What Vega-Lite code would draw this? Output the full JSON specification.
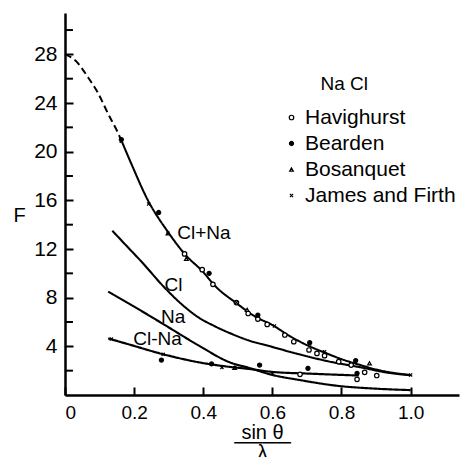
{
  "$schema": "https://vega.github.io/schema/vega-lite/v6.json",
  "width": 394,
  "height": 382,
  "autosize": {"type": "none"},
  "padding": {"left": 65, "top": 13, "right": 8, "bottom": 62},
  "background": "white",
  "config": {
    "view": {"stroke": null},
    "font": "Liberation Sans",
    "axis": {"grid": false, "domainColor": "black", "domainWidth": 2.5, "tickColor": "black", "tickWidth": 2, "labelColor": "black", "titleColor": "black", "labelFont": "Liberation Sans", "titleFont": "Liberation Sans", "titleFontWeight": "normal"}
  },
  "datasets": {
    "curves": [
      {"c": "ClNaDash", "x": 0.0, "F": 28.0},
      {"c": "ClNaDash", "x": 0.03, "F": 27.5},
      {"c": "ClNaDash", "x": 0.067, "F": 26.1},
      {"c": "ClNaDash", "x": 0.096, "F": 24.8},
      {"c": "ClNaDash", "x": 0.125, "F": 23.1},
      {"c": "ClNaDash", "x": 0.149, "F": 21.8},
      {"c": "ClNaDash", "x": 0.165, "F": 20.8},
      {"c": "ClNa", "x": 0.165, "F": 20.8},
      {"c": "ClNa", "x": 0.192, "F": 19.0},
      {"c": "ClNa", "x": 0.24, "F": 16.0},
      {"c": "ClNa", "x": 0.298, "F": 13.4},
      {"c": "ClNa", "x": 0.346, "F": 11.6},
      {"c": "ClNa", "x": 0.4, "F": 10.1},
      {"c": "ClNa", "x": 0.433, "F": 9.0},
      {"c": "ClNa", "x": 0.496, "F": 7.55},
      {"c": "ClNa", "x": 0.55, "F": 6.45},
      {"c": "ClNa", "x": 0.6, "F": 5.75},
      {"c": "ClNa", "x": 0.65, "F": 4.85},
      {"c": "ClNa", "x": 0.7, "F": 4.1},
      {"c": "ClNa", "x": 0.75, "F": 3.5},
      {"c": "ClNa", "x": 0.8, "F": 2.95},
      {"c": "ClNa", "x": 0.85, "F": 2.5},
      {"c": "ClNa", "x": 0.9, "F": 2.1},
      {"c": "ClNa", "x": 0.95, "F": 1.82},
      {"c": "ClNa", "x": 1.0, "F": 1.65},
      {"c": "Cl", "x": 0.137, "F": 13.5},
      {"c": "Cl", "x": 0.18, "F": 12.2},
      {"c": "Cl", "x": 0.22, "F": 11.0},
      {"c": "Cl", "x": 0.289, "F": 8.8},
      {"c": "Cl", "x": 0.34, "F": 7.4},
      {"c": "Cl", "x": 0.385, "F": 6.4},
      {"c": "Cl", "x": 0.43, "F": 5.7},
      {"c": "Cl", "x": 0.48, "F": 5.05},
      {"c": "Cl", "x": 0.53, "F": 4.5},
      {"c": "Cl", "x": 0.6, "F": 3.95},
      {"c": "Cl", "x": 0.67, "F": 3.4},
      {"c": "Cl", "x": 0.76, "F": 2.78},
      {"c": "Cl", "x": 0.86, "F": 2.25},
      {"c": "Cl", "x": 0.93, "F": 1.85},
      {"c": "Cl", "x": 1.0, "F": 1.62},
      {"c": "Na", "x": 0.125, "F": 8.5},
      {"c": "Na", "x": 0.192, "F": 7.4},
      {"c": "Na", "x": 0.289, "F": 5.75},
      {"c": "Na", "x": 0.385, "F": 4.1},
      {"c": "Na", "x": 0.48, "F": 2.65},
      {"c": "Na", "x": 0.53, "F": 2.25},
      {"c": "Na", "x": 0.6, "F": 1.65},
      {"c": "Na", "x": 0.675, "F": 1.25},
      {"c": "Na", "x": 0.79, "F": 0.75},
      {"c": "Na", "x": 0.9, "F": 0.52},
      {"c": "Na", "x": 1.0, "F": 0.4},
      {"c": "ClmNa", "x": 0.125, "F": 4.65},
      {"c": "ClmNa", "x": 0.192, "F": 4.1},
      {"c": "ClmNa", "x": 0.284, "F": 3.35},
      {"c": "ClmNa", "x": 0.385, "F": 2.7},
      {"c": "ClmNa", "x": 0.48, "F": 2.3},
      {"c": "ClmNa", "x": 0.53, "F": 2.15},
      {"c": "ClmNa", "x": 0.6, "F": 1.9},
      {"c": "ClmNa", "x": 0.713, "F": 1.75},
      {"c": "ClmNa", "x": 0.85, "F": 1.6}
    ],
    "obs": [
      {"src": "Havighurst", "x": 0.346, "F": 11.6},
      {"src": "Havighurst", "x": 0.397, "F": 10.3},
      {"src": "Havighurst", "x": 0.428, "F": 9.1},
      {"src": "Havighurst", "x": 0.496, "F": 7.6},
      {"src": "Havighurst", "x": 0.53, "F": 6.7},
      {"src": "Havighurst", "x": 0.558, "F": 6.24},
      {"src": "Havighurst", "x": 0.585, "F": 5.8},
      {"src": "Havighurst", "x": 0.636, "F": 4.93},
      {"src": "Havighurst", "x": 0.662, "F": 4.38},
      {"src": "Havighurst", "x": 0.706, "F": 3.7},
      {"src": "Havighurst", "x": 0.729, "F": 3.42},
      {"src": "Havighurst", "x": 0.751, "F": 3.23},
      {"src": "Havighurst", "x": 0.792, "F": 2.74},
      {"src": "Havighurst", "x": 0.828, "F": 2.46},
      {"src": "Havighurst", "x": 0.867, "F": 1.86},
      {"src": "Havighurst", "x": 0.902, "F": 1.6},
      {"src": "Havighurst", "x": 0.68, "F": 1.7},
      {"src": "Havighurst", "x": 0.845, "F": 1.29},
      {"src": "Bearden", "x": 0.163, "F": 21.0},
      {"src": "Bearden", "x": 0.271, "F": 15.0},
      {"src": "Bearden", "x": 0.417, "F": 10.0},
      {"src": "Bearden", "x": 0.558, "F": 6.57},
      {"src": "Bearden", "x": 0.708, "F": 4.3},
      {"src": "Bearden", "x": 0.841, "F": 2.82},
      {"src": "Bearden", "x": 0.279, "F": 2.87},
      {"src": "Bearden", "x": 0.424, "F": 2.55},
      {"src": "Bearden", "x": 0.563, "F": 2.46},
      {"src": "Bearden", "x": 0.703, "F": 2.19},
      {"src": "Bearden", "x": 0.845, "F": 1.78},
      {"src": "Bosanquet", "x": 0.298, "F": 13.3},
      {"src": "Bosanquet", "x": 0.351, "F": 11.2},
      {"src": "Bosanquet", "x": 0.527, "F": 7.0},
      {"src": "Bosanquet", "x": 0.881, "F": 2.6},
      {"src": "Bosanquet", "x": 0.491, "F": 2.24},
      {"src": "James and Firth", "x": 0.163, "F": 20.85},
      {"src": "James and Firth", "x": 0.242, "F": 15.7},
      {"src": "James and Firth", "x": 0.298, "F": 13.3},
      {"src": "James and Firth", "x": 0.496, "F": 7.6},
      {"src": "James and Firth", "x": 0.606, "F": 5.67},
      {"src": "James and Firth", "x": 0.708, "F": 4.2},
      {"src": "James and Firth", "x": 0.751, "F": 3.55},
      {"src": "James and Firth", "x": 1.0, "F": 1.65},
      {"src": "James and Firth", "x": 0.134, "F": 4.6},
      {"src": "James and Firth", "x": 0.284, "F": 3.34},
      {"src": "James and Firth", "x": 0.454, "F": 2.27},
      {"src": "James and Firth", "x": 0.491, "F": 2.24},
      {"src": "James and Firth", "x": 0.6, "F": 1.8}
    ],
    "labels": [
      {"t": "Cl+Na", "x": 0.402, "F": 13.3},
      {"t": "Cl", "x": 0.314, "F": 9.07},
      {"t": "Na", "x": 0.313, "F": 6.45},
      {"t": "Cl-Na", "x": 0.268, "F": 4.64}
    ],
    "minor": [
      {"F": 2}, {"F": 6}, {"F": 10}, {"F": 14}, {"F": 18}, {"F": 22}, {"F": 26}, {"F": 30}
    ]
  },
  "layer": [
    {
      "data": {"name": "curves"},
      "mark": {"type": "line", "interpolate": "monotone", "color": "black"},
      "encoding": {
        "x": {"field": "x", "type": "quantitative", "scale": {"domain": [0, 1.14], "nice": false, "zero": false},
          "axis": {"values": [0, 0.2, 0.4, 0.6, 0.8, 1.0], "labelExpr": "datum.value === 0 ? '0' : format(datum.value, '.1f')", "tickSize": -8, "labelPadding": 16, "labelFontSize": 19, "title": ["sin \u03b8", "\u2500\u2500\u2500\u2500", "\u03bb"], "titleFontSize": 20, "titleLineHeight": 10, "titlePadding": 0}},
        "y": {"field": "F", "type": "quantitative", "scale": {"domain": [0, 31.4], "nice": false},
          "axis": {"values": [4, 8, 12, 16, 20, 24, 28], "format": "d", "tickSize": -8, "labelPadding": 16, "labelFontSize": 21, "title": "F", "titleAngle": 0, "titleFontSize": 20, "titleX": -46, "titleY": 202, "titleAlign": "center", "titleBaseline": "middle"}},
        "detail": {"field": "c"},
        "strokeDash": {"field": "c", "type": "nominal", "scale": {"domain": ["ClNaDash", "ClNa", "Cl", "Na", "ClmNa"], "range": [[7, 4], [1, 0], [1, 0], [1, 0], [1, 0]]}, "legend": null},
        "strokeWidth": {"field": "c", "type": "nominal", "scale": {"domain": ["ClNaDash", "ClNa", "Cl", "Na", "ClmNa"], "range": [2, 2.2, 1.2, 1.3, 1.8]}, "legend": null}
      }
    },
    {
      "data": {"name": "minor"},
      "mark": {"type": "rule", "color": "black", "strokeWidth": 2},
      "encoding": {
        "y": {"field": "F", "type": "quantitative"},
        "x": {"datum": 0},
        "x2": {"datum": 0.023}
      }
    },
    {
      "data": {"name": "obs"},
      "mark": {"type": "point", "stroke": "black", "strokeWidth": 1.2, "opacity": 1},
      "encoding": {
        "x": {"field": "x", "type": "quantitative"},
        "y": {"field": "F", "type": "quantitative"},
        "shape": {"field": "src", "type": "nominal", "scale": {"domain": ["Havighurst", "Bearden", "Bosanquet", "James and Firth"], "range": ["circle", "circle", "triangle-up", "M-1,-1L1,1M-1,1L1,-1"]},
          "legend": {"orient": "none", "legendX": 216, "legendY": 62, "title": "Na Cl", "titleAnchor": "middle", "titleAlign": "right", "titleFontSize": 19, "titleFontWeight": "normal", "titleFont": "Liberation Sans", "titleColor": "black", "labelFontSize": 21, "labelFont": "Liberation Sans", "labelColor": "black", "labelLimit": 200, "symbolStrokeColor": "black", "symbolStrokeWidth": 1.2, "rowPadding": 4, "labelOffset": 3, "titlePadding": 13}},
        "fill": {"field": "src", "type": "nominal", "scale": {"domain": ["Havighurst", "Bearden", "Bosanquet", "James and Firth"], "range": ["white", "black", "white", "white"]}},
        "size": {"field": "src", "type": "nominal", "scale": {"domain": ["Havighurst", "Bearden", "Bosanquet", "James and Firth"], "range": [20, 10, 30, 25]}}
      }
    },
    {
      "data": {"name": "labels"},
      "mark": {"type": "text", "fontSize": 19, "font": "Liberation Sans", "color": "black", "align": "center", "baseline": "middle"},
      "encoding": {
        "x": {"field": "x", "type": "quantitative"},
        "y": {"field": "F", "type": "quantitative"},
        "text": {"field": "t"}
      }
    }
  ]
}
